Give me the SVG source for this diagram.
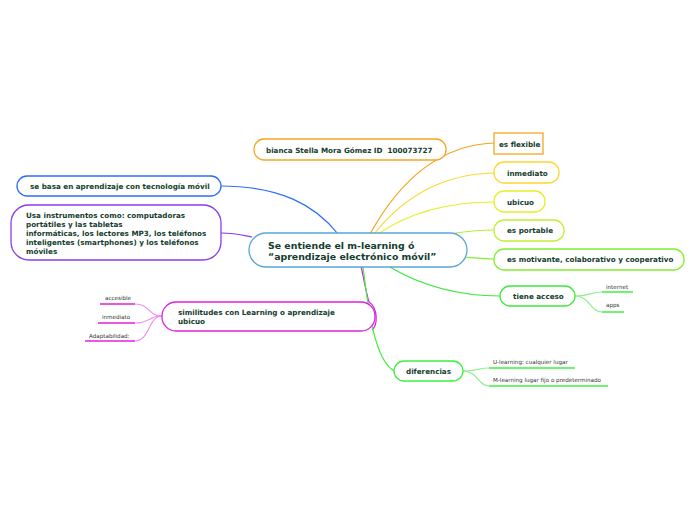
<svg xmlns="http://www.w3.org/2000/svg" width="696" height="520" viewBox="0 0 696 520">
<style>
.n{fill:#fff;stroke-width:1.3}
.t{font-family:Verdana,"DejaVu Sans",sans-serif;font-weight:bold;font-size:7.2px;fill:#143d2e;white-space:pre}
.s{font-family:Verdana,"DejaVu Sans",sans-serif;font-size:5.6px;fill:#333}
.c{fill:none;stroke-width:1.2}
</style>
<rect width="696" height="520" fill="#fff"/>
<g id="connectors">
<path class="c" stroke="#2b6ef5" d="M221,186 C280,186 315,205 338,234"/>
<path class="c" stroke="#8a3cf0" d="M221,233 C235,233 242,235 252,237"/>
<path class="c" stroke="#f5a020" stroke-width="1.5" d="M370,234 C400,180 440,145 494,143"/>
<path class="c" stroke="#ffd530" d="M374,234 C405,195 445,174 494,173"/>
<path class="c" stroke="#e4f020" d="M378,234 C410,212 450,202 494,202"/>
<path class="c" stroke="#b8f030" d="M455,233 C470,231 480,230 494,230"/>
<path class="c" stroke="#80f030" d="M462,257 C475,258 484,259 494,259"/>
<path class="c" stroke="#3ee83e" stroke-width="1.4" d="M388,266 C420,285 455,296 500,296"/>
<path class="c" stroke="#cc22dd" stroke-width="1.5" d="M361,266 C364,280 366,292 369,302 C378,308 378,325 372,330"/>
<path class="c" stroke="#3ef03e" d="M363,266 C368,310 375,360 394,371"/>
<path class="c" stroke="#90f090" d="M575,296 C590,296 590,292 602,292"/>
<path class="c" stroke="#90f090" d="M575,296 C590,296 590,312 602,312"/>
<path class="c" stroke="#90f090" d="M463,371 C478,371 478,368 489,368"/>
<path class="c" stroke="#90f090" d="M463,371 C478,371 478,386 489,386"/>
<path class="c" stroke="#f090f0" d="M162,316 C148,316 150,304 135,304"/>
<path class="c" stroke="#f090f0" d="M162,316 C148,316 150,323 135,323"/>
<path class="c" stroke="#f090f0" d="M162,316 C148,316 150,341 135,341"/>
<line x1="100" y1="304" x2="135" y2="304" stroke="#e020e0" stroke-width="1.5"/>
<line x1="98" y1="323" x2="135" y2="323" stroke="#e020e0" stroke-width="1.5"/>
<line x1="85" y1="341" x2="135" y2="341" stroke="#e020e0" stroke-width="1.5"/>
<line x1="602" y1="292" x2="633" y2="292" stroke="#3ef03e" stroke-width="1.5"/>
<line x1="602" y1="312" x2="624" y2="312" stroke="#3ef03e" stroke-width="1.5"/>
<line x1="489" y1="368" x2="575" y2="368" stroke="#3ef03e" stroke-width="1.5"/>
<line x1="489" y1="386" x2="608" y2="386" stroke="#3ef03e" stroke-width="1.5"/>
</g>
<g id="center">
<rect class="n" x="249" y="233" width="218" height="34" rx="17" stroke="#5aa5d8" stroke-width="1.6"/>
<text class="t" style="font-size:9.4px" x="268" y="248.5">Se entiende el m-learning ó</text>
<text class="t" style="font-size:9.4px" x="268" y="260">“aprendizaje electrónico móvil”</text>
</g>
<g id="author">
<rect class="n" x="254" y="139" width="192" height="21" rx="10" stroke="#f5a623"/>
<text class="t" x="266" y="153">bianca Stella Mora Gómez ID  100073727</text>
</g>
<g id="flexible">
<rect class="n" x="494" y="133" width="49" height="21" stroke="#f5a623"/>
<text class="t" x="499" y="147">es flexible</text>
</g>
<g id="inmediato">
<rect class="n" x="494" y="162" width="65" height="21" rx="10" stroke="#ffd530"/>
<text class="t" x="507" y="176">inmediato</text>
</g>
<g id="ubicuo">
<rect class="n" x="494" y="191" width="51" height="21" rx="10" stroke="#e4f020"/>
<text class="t" x="507" y="205">ubicuo</text>
</g>
<g id="portable">
<rect class="n" x="494" y="220" width="70" height="21" rx="10" stroke="#c0f030"/>
<text class="t" x="507" y="233">es portable</text>
</g>
<g id="motivante">
<rect class="n" x="494" y="249" width="190" height="21" rx="10" stroke="#80f030"/>
<text class="t" x="507" y="262">es motivante, colaborativo y cooperativo</text>
</g>
<g id="acceso">
<rect class="n" x="500" y="286" width="75" height="20" rx="10" stroke="#3ee83e"/>
<text class="t" x="513" y="299">tiene acceso</text>
</g>
<g id="internet"><text class="s" x="606" y="289">internet</text></g>
<g id="apps"><text class="s" x="606" y="307">apps</text></g>
<g id="diferencias">
<rect class="n" x="394" y="361" width="69" height="20" rx="10" stroke="#3ef03e"/>
<text class="t" x="406" y="374">diferencias</text>
</g>
<g id="ulearning"><text class="s" x="493" y="364">U-learning: cualquier lugar</text></g>
<g id="mlearning"><text class="s" x="493" y="382">M-learning lugar fijo o predeterminado</text></g>
<g id="basa">
<rect class="n" x="17" y="176" width="204" height="20" rx="10" stroke="#2b6ef5"/>
<text class="t" x="30" y="189">se basa en aprendizaje con tecnología móvil</text>
</g>
<g id="instrumentos">
<rect class="n" x="11" y="205" width="210" height="55" rx="18" stroke="#8a3cf0"/>
<text class="t" x="26" y="218">Usa instrumentos como: computadoras</text>
<text class="t" x="26" y="227">portátiles y las tabletas</text>
<text class="t" x="26" y="236">informáticas, los lectores MP3, los teléfonos</text>
<text class="t" x="26" y="245">inteligentes (smartphones) y los teléfonos</text>
<text class="t" x="26" y="254">móviles</text>
</g>
<g id="similitudes">
<rect class="n" x="162" y="302" width="213" height="29" rx="14" stroke="#e020e0"/>
<text class="t" x="178" y="315">similitudes con Learning o aprendizaje</text>
<text class="t" x="178" y="324">ubicuo</text>
</g>
<g id="accesible"><text class="s" x="105" y="300">accesible</text></g>
<g id="inmediato2"><text class="s" x="102" y="319">inmediato</text></g>
<g id="adaptabilidad"><text class="s" x="89" y="338">Adaptabilidad:</text></g>
</svg>
